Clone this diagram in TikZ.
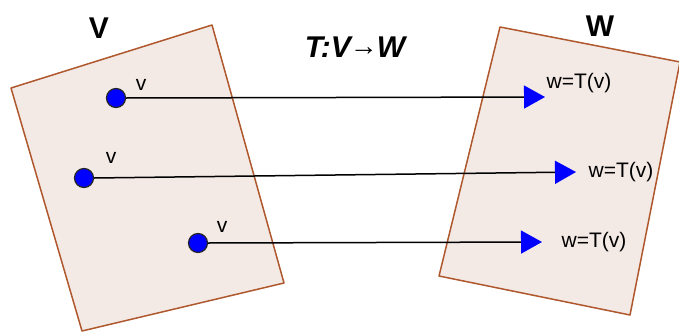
\documentclass[tikz,border=0pt]{standalone}
\usepackage{fontspec}
\setmainfont{Liberation Sans}
\usetikzlibrary{arrows.meta}
\definecolor{sheetfill}{HTML}{F3E9E5}
\definecolor{sheetedge}{HTML}{B0582D}
\definecolor{dotblue}{HTML}{0000FF}
\tikzset{
  sheet/.style={draw=sheetedge, fill=sheetfill, line width=1.5pt, line join=round},
  vecdot/.style={circle, draw=black!85, fill=dotblue, line width=1.2pt, minimum size=19pt, inner sep=0pt},
  maparrow/.style={draw=black, line width=1.5pt, -{Triangle[length=21pt,width=23pt,color=dotblue]}},
  smalllab/.style={font=\fontsize{21}{24}\selectfont, inner sep=0pt},
  biglab/.style={font=\fontsize{30}{36}\selectfont\bfseries, inner sep=0pt}
}
\begin{document}
\begin{tikzpicture}[x=1pt,y=-1pt]
\useasboundingbox (0,0) rectangle (679,332);
% sheets
\draw[sheet] (11,88) -- (212,25) -- (284,283) -- (82,331) -- cycle;
\draw[sheet] (500,27) -- (680,62) -- (630,315) -- (439,276) -- cycle;
% titles
\node[biglab] (lV) at (99,28) {V};
\node[biglab] (lW) at (600,26) {W};
\node[biglab, font=\fontsize{30}{36}\selectfont\bfseries\itshape] (title) at (355,47) {T:V\kern-1pt\raisebox{2pt}{\fontsize{28}{30}\selectfont →}\kern-1pt W};
% dots
\node[vecdot] (d1) at (116,98) {};
\node[vecdot] (d2) at (84,178) {};
\node[vecdot] (d3) at (198,243) {};
% tips
\coordinate (t1) at (545,97);
\coordinate (t2) at (576,172);
\coordinate (t3) at (542,242);
% arrows
\draw[maparrow] (d1.east) -- (t1);
\draw[maparrow] (d2.east) -- (t2);
\draw[maparrow] (d3.east) -- (t3);
% labels
\node[smalllab] (v1) at (141,85) {v};
\node[smalllab] (v2) at (111,158) {v};
\node[smalllab] (v3) at (222,227) {v};
\node[smalllab] (w1) at (579,83) {w=T(v)};
\node[smalllab] (w2) at (621,172) {w=T(v)};
\node[smalllab] (w3) at (594,242) {w=T(v)};
\end{tikzpicture}
\end{document}
